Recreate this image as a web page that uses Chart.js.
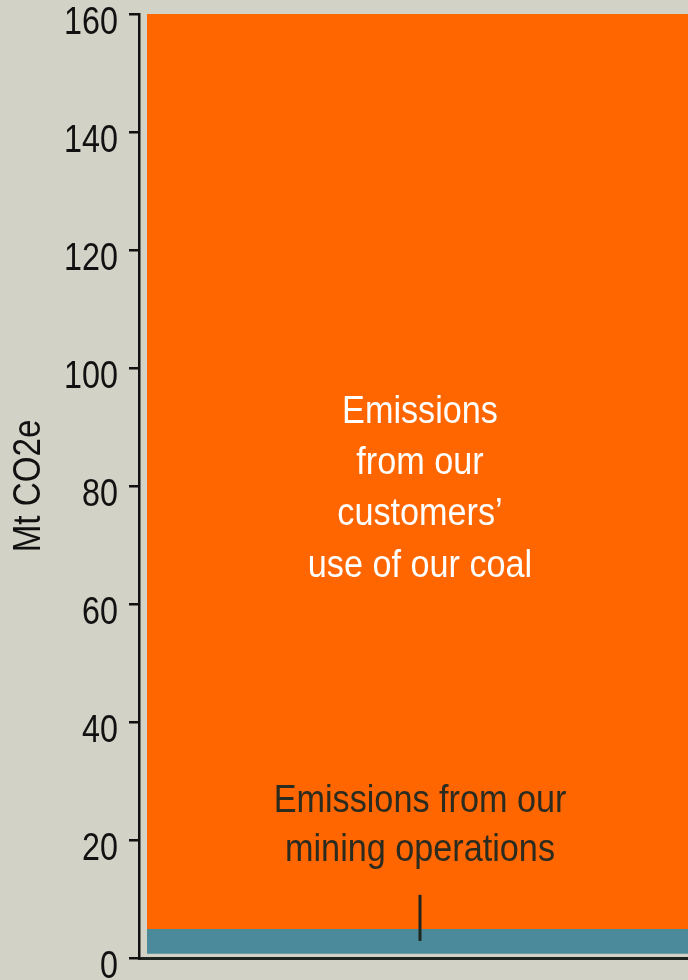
<!DOCTYPE html>
<html>
<head>
<meta charset="utf-8">
<script src="https://cdn.jsdelivr.net/npm/chart.js@4.4.1/dist/chart.umd.min.js"></script>
<style>
  html, body { margin: 0; padding: 0; background: #d2d2c6; overflow: hidden; }
  #wrap { width: 688px; height: 980px; overflow: hidden; position: relative; }
  #c { position: absolute; left: 0; top: 0; }
</style>
</head>
<body>
<div id="wrap"><canvas id="c" width="720" height="980"></canvas></div>
<script>
const categories = ["Emissions"];
const miningOps = [4.9];
const customerUse = [155.1];
const yTicks = [0, 20, 40, 60, 80, 100, 120, 140, 160];
const customerLabel = ["Emissions", "from our", "customers\u2019", "use of our coal"];
const miningLabel = ["Emissions from our", "mining operations"];

const BG = "#d2d2c6";
const FONT = "'Liberation Sans', Arial, sans-serif";

// condensed text rendering (reference uses a condensed typeface)
const canvas = document.getElementById("c");
const ctx2d = canvas.getContext("2d");
let condense = 0.85;
const origFill = ctx2d.fillText;
ctx2d.fillText = function (t, x, y, mw) {
  this.save();
  this.scale(condense, 1);
  if (mw === undefined) origFill.call(this, t, x / condense, y);
  else origFill.call(this, t, x / condense, y, mw / condense);
  this.restore();
};

const labelsPlugin = {
  id: "labelsPlugin",
  beforeDraw() { condense = 0.85; },
  afterDatasetsDraw(chart) {
    const ctx = chart.ctx;
    const y = chart.scales.y;
    const bar = chart.getDatasetMeta(1).data[0];
    const cx = bar.x;
    ctx.save();
    condense = 0.9;
    ctx.font = "38px " + FONT;
    ctx.textAlign = "center";
    ctx.textBaseline = "alphabetic";
    ctx.fillStyle = "#ffffff";
    let base = y.getPixelForValue(90.7);
    customerLabel.forEach((t, i) => ctx.fillText(t, cx, base + i * 51.3));
    ctx.fillStyle = "#2b2b1f";
    base = y.getPixelForValue(24.75);
    miningLabel.forEach((t, i) => ctx.fillText(t, cx, base + i * 49));
    condense = 0.85;
    // leader line
    ctx.strokeStyle = "#1f2620";
    ctx.lineWidth = 3;
    ctx.beginPath();
    ctx.moveTo(cx, y.getPixelForValue(10.7));
    ctx.lineTo(cx, y.getPixelForValue(2.9));
    ctx.stroke();
    ctx.restore();
  }
};

new Chart(canvas, {
  type: "bar",
  data: {
    labels: categories,
    datasets: [
      { label: "Mining operations", data: miningOps, backgroundColor: "#4a8a9a",
        borderColor: BG, borderWidth: { top: 0, left: 0, right: 0, bottom: 3 }, borderSkipped: false },
      { label: "Customers' use", data: customerUse, backgroundColor: "#ff6600", borderWidth: 0 }
    ]
  },
  options: {
    responsive: false,
    animation: false,
    devicePixelRatio: 1,
    layout: { autoPadding: false, padding: { top: 14, right: 19, bottom: 0, left: 0 } },
    plugins: { legend: { display: false }, tooltip: { enabled: false } },
    datasets: { bar: { barPercentage: 1, categoryPercentage: 0.9715 } },
    scales: {
      x: {
        stacked: true,
        ticks: { display: false },
        grid: { display: false },
        border: { display: true, color: "#1f2420", width: 3 },
        afterFit(s) { s.height = 22; s.paddingLeft = 0; s.paddingRight = 0; }
      },
      y: {
        stacked: true,
        min: 0, max: 160,
        afterBuildTicks(s) { s.ticks = yTicks.map(v => ({ value: v })); },
        ticks: {
          color: "#111111",
          font: { family: FONT, size: 38 },
          padding: 11,
          labelOffset: 10
        },
        grid: { drawOnChartArea: false, drawTicks: true, tickLength: 10, color: "#111111", lineWidth: 2.5 },
        border: { display: true, color: "#111111", width: 2.5 },
        title: { display: true, text: "Mt CO2e", color: "#111111", font: { family: FONT, size: 39 }, padding: { top: 6, bottom: 0 } },
        afterFit(s) { s.width = 139; s.paddingTop = 0; s.paddingBottom = 0; }
      }
    }
  },
  plugins: [labelsPlugin]
});
</script>
</body>
</html>
